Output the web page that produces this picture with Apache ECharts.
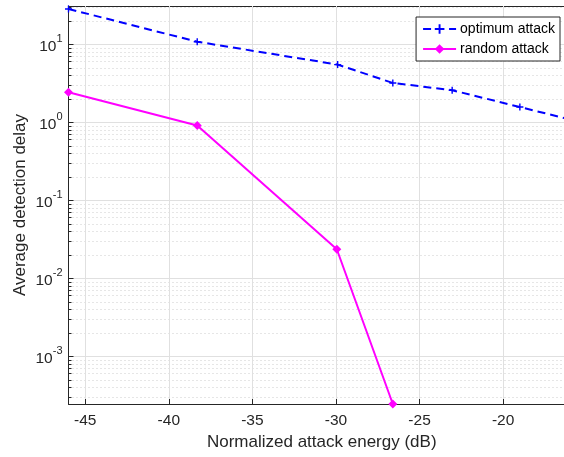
<!DOCTYPE html>
<html>
<head>
<meta charset="utf-8">
<script src="https://cdn.jsdelivr.net/npm/echarts@6/dist/echarts.min.js"></script>
<style>
  html, body { margin: 0; padding: 0; background: #fff; }
  #chart { width: 564px; height: 457px; }
</style>
</head>
<body>
<div id="chart"></div>
<script>
// Normalized attack energy (dB) for each simulated point
const energyOptimum = [-46.0, -38.3, -29.9, -26.6, -23.05, -19.0, -15.7];
const delayOptimum  = [28.4, 10.8, 5.5, 3.2, 2.58, 1.57, 1.05];

const energyRandom = [-46.0, -38.3, -29.95, -26.6];
const delayRandom  = [2.43, 0.91, 0.0236, 2.45e-4];

// Axis ranges (x view ends at the right border of the page) and tick labels
const xRange = [-46.0, -16.36];
const yRange = [2.45e-4, 31];
const xTicks = [-45, -40, -35, -30, -25, -20];
const yTicks = [1e-3, 1e-2, 1e-1, 1, 10];
const seriesNames = ['optimum attack', 'random attack'];

// minor log positions (2..9 within each decade)
const yMinor = [];
for (let d = -4; d <= 1; d++) {
  for (let k = 2; k <= 9; k++) {
    const v = k * Math.pow(10, d);
    if (v > yRange[0] && v < yRange[1]) yMinor.push(v);
  }
}

const AX = '#262626';
const FONT = 'Liberation Sans, Arial, Helvetica, sans-serif';
const plusPath = 'path://M4,0H6V4H10V6H6V10H4V6H0V4H4Z';

const chart = echarts.init(document.getElementById('chart'), null, { renderer: 'canvas' });

chart.setOption({
  animation: false,
  backgroundColor: '#fff',
  textStyle: { fontFamily: FONT },
  grid: { left: 68.5, top: 6, right: 0, bottom: 53, containLabel: false },
  legend: {
    orient: 'vertical',
    right: 4,
    top: 17,
    data: seriesNames,
    itemWidth: 33,
    itemHeight: 12,
    itemGap: 6,
    padding: [5, 5, 5, 6],
    borderColor: AX,
    borderWidth: 1,
    borderRadius: 0,
    backgroundColor: '#fff',
    textStyle: { fontSize: 14, color: '#000', fontFamily: FONT, padding: [0, 0, 0, -1] }
  },
  xAxis: [
    {
      type: 'value',
      min: xRange[0],
      max: xRange[1],
      name: 'Normalized attack energy (dB)',
      nameLocation: 'middle',
      nameGap: 30,
      nameMoveOverlap: false,
      nameTextStyle: { fontSize: 17, color: AX, fontFamily: FONT, padding: [0, 0, 0, 11] },
      axisLine: { show: true, onZero: false, lineStyle: { color: AX, width: 1 } },
      axisTick: { show: true, inside: true, length: 5, customValues: xTicks, lineStyle: { color: AX } },
      axisLabel: { customValues: xTicks, fontSize: 15.5, color: AX, margin: 9, fontFamily: FONT },
      splitLine: { show: true, lineStyle: { color: '#e0e0e0', width: 1 } },
      z: 1
    },
    {
      type: 'value',
      position: 'top',
      min: xRange[0],
      max: xRange[1],
      axisLine: { show: true, onZero: false, lineStyle: { color: AX, width: 1 } },
      axisTick: { show: true, inside: true, length: 5, customValues: xTicks, lineStyle: { color: AX } },
      axisLabel: { show: false },
      splitLine: { show: false }
    }
  ],
  yAxis: [
    {
      type: 'log',
      logBase: 10,
      min: yRange[0],
      max: yRange[1],
      name: 'Average detection delay',
      nameLocation: 'middle',
      nameGap: 40,
      nameMoveOverlap: false,
      nameTextStyle: { fontSize: 17, color: AX, fontFamily: FONT },
      axisLine: { show: true, onZero: false, lineStyle: { color: AX, width: 1 } },
      axisTick: { show: true, inside: true, length: 5, customValues: yTicks, lineStyle: { color: AX } },
      axisLabel: {
        customValues: yTicks,
        margin: 6,
        formatter: function (v) {
          const e = Math.round(Math.log10(v));
          return '{b|10}{s|' + e + '}';
        },
        rich: {
          b: { fontSize: 15.5, color: AX, fontFamily: FONT, verticalAlign: 'bottom', lineHeight: 21 },
          s: { fontSize: 11, color: AX, fontFamily: FONT, verticalAlign: 'top', lineHeight: 21 }
        }
      },
      splitLine: { show: true, lineStyle: { color: '#e0e0e0', width: 1 } },
      z: 2
    },
    {
      type: 'log',
      logBase: 10,
      min: yRange[0],
      max: yRange[1],
      position: 'left',
      axisLine: { show: false },
      axisTick: { show: true, inside: true, length: 3, customValues: yMinor, lineStyle: { color: AX } },
      axisLabel: { show: false },
      splitLine: { show: true, lineStyle: { color: '#cccccc', width: 1, type: [1, 3] } },
      z: 1
    }
  ],
  series: [
    {
      name: seriesNames[0],
      type: 'line',
      xAxisIndex: 0,
      yAxisIndex: 0,
      clip: false,
      data: energyOptimum.map((x, i) => [x, delayOptimum[i]]),
      symbol: plusPath,
      symbolSize: 7,
      itemStyle: { color: '#0000ff' },
      lineStyle: { color: '#0000ff', width: 2, type: [8, 5] },
      z: 5
    },
    {
      name: seriesNames[1],
      type: 'line',
      xAxisIndex: 0,
      yAxisIndex: 0,
      clip: false,
      data: energyRandom.map((x, i) => [x, delayRandom[i]]),
      symbol: 'diamond',
      symbolSize: 9,
      itemStyle: { color: '#ff00ff' },
      lineStyle: { color: '#ff00ff', width: 2 },
      z: 5
    }
  ]
});
</script>
</body>
</html>
